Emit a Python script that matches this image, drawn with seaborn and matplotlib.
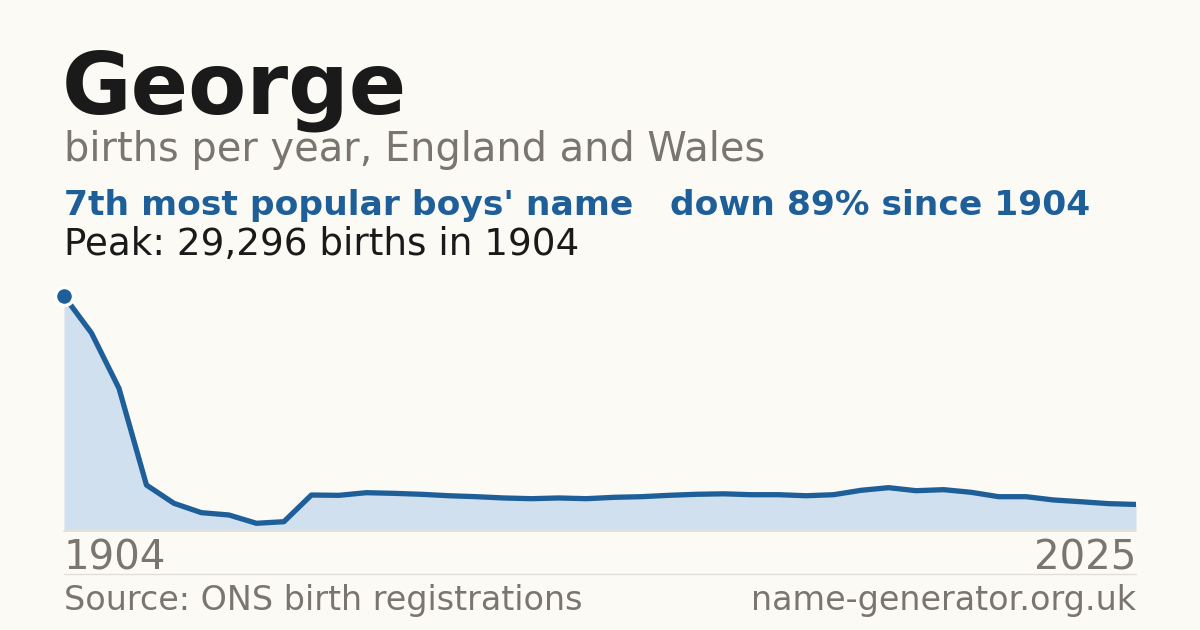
import numpy as np
import pandas as pd
import matplotlib
matplotlib.use("Agg")
import matplotlib.pyplot as plt
import seaborn as sns

# ONS points: every 10 years to 1994, then yearly
years = list(range(1904, 1995, 10)) + list(range(1996, 2026))
births = [29296, 24660, 17740, 5630, 3340, 2170, 1880, 840, 1040, 4380,
          4340, 4670, 4590, 4470, 4290, 4170, 4010, 3920, 4010, 3920,
          4090, 4170, 4340, 4470, 4530, 4420, 4420, 4290, 4420, 4970,
          5300, 4920, 5050, 4720, 4170, 4170, 3760, 3540, 3300, 3200]
first_label = "1904"
last_label = "2025"

BG = "#FBFAF5"
BLUE = "#1F5F99"
FILL = "#D0E0EF"
GREY = "#7A756E"
INK = "#1A1A1A"

sns.set_style("white", {"axes.facecolor": BG, "figure.facecolor": BG})
plt.rcParams['font.family'] = ['DejaVu Sans']

df = pd.DataFrame({"pos": np.arange(len(years)), "year": years, "births": births})

W, H = 1200, 630
fig = plt.figure(figsize=(12, 6.3), dpi=100)
fig.patch.set_facecolor(BG)

# plot area: x 64..1136, y 280..530 px
ax = fig.add_axes([64 / W, (H - 530) / H, 1072 / W, 250 / H])
ax.set_facecolor(BG)
peak = max(births)
ax.set_ylim(0, peak * 250 / 234)
ax.set_xlim(0, len(years) - 1)

ax.fill_between(df["pos"], df["births"], color=FILL, lw=0, zorder=1)
sns.lineplot(data=df, x="pos", y="births", ax=ax, color=BLUE, lw=3.8,
             zorder=2, solid_joinstyle="round")
ax.plot([0], [peak], "o", ms=13, mfc=BLUE, mec="white", mew=2.5, zorder=3,
        clip_on=False)
ax.set_axis_off()

def px(x, y):
    return x / W, 1 - y / H

# baseline and separator
fig.add_artist(plt.Line2D([64 / W, 1136 / W], [1 - 530.5 / H] * 2,
                          color="#E2DED5", lw=1.2))
fig.add_artist(plt.Line2D([64 / W, 1136 / W], [1 - 574 / H] * 2,
                          color="#E2DED5", lw=1))

fig.text(*px(62, 113), "George", fontsize=61, fontweight="bold", color=INK,
         va="baseline", ha="left")
fig.text(*px(64, 161), "births per year, England and Wales", fontsize=28.7,
         color=GREY, va="baseline", ha="left")
fig.text(*px(64, 215), "7th most popular boys' name", fontsize=24.8,
         fontweight="bold", color=BLUE, va="baseline", ha="left")
fig.text(*px(670, 215), "down 89% since 1904", fontsize=24.8,
         fontweight="bold", color=BLUE, va="baseline", ha="left")
fig.text(*px(64, 255), "Peak: 29,296 births in 1904", fontsize=26.8,
         color=INK, va="baseline", ha="left")

fig.text(*px(64, 570), first_label, fontsize=29, color=GREY,
         va="baseline", ha="left")
fig.text(*px(1136, 570), last_label, fontsize=29, color=GREY,
         va="baseline", ha="right")
fig.text(*px(64, 610), "Source: ONS birth registrations", fontsize=24,
         color=GREY, va="baseline", ha="left")
fig.text(*px(1136, 610), "name-generator.org.uk", fontsize=24,
         color=GREY, va="baseline", ha="right")

fig.savefig("out.png", dpi=100, facecolor=BG)
